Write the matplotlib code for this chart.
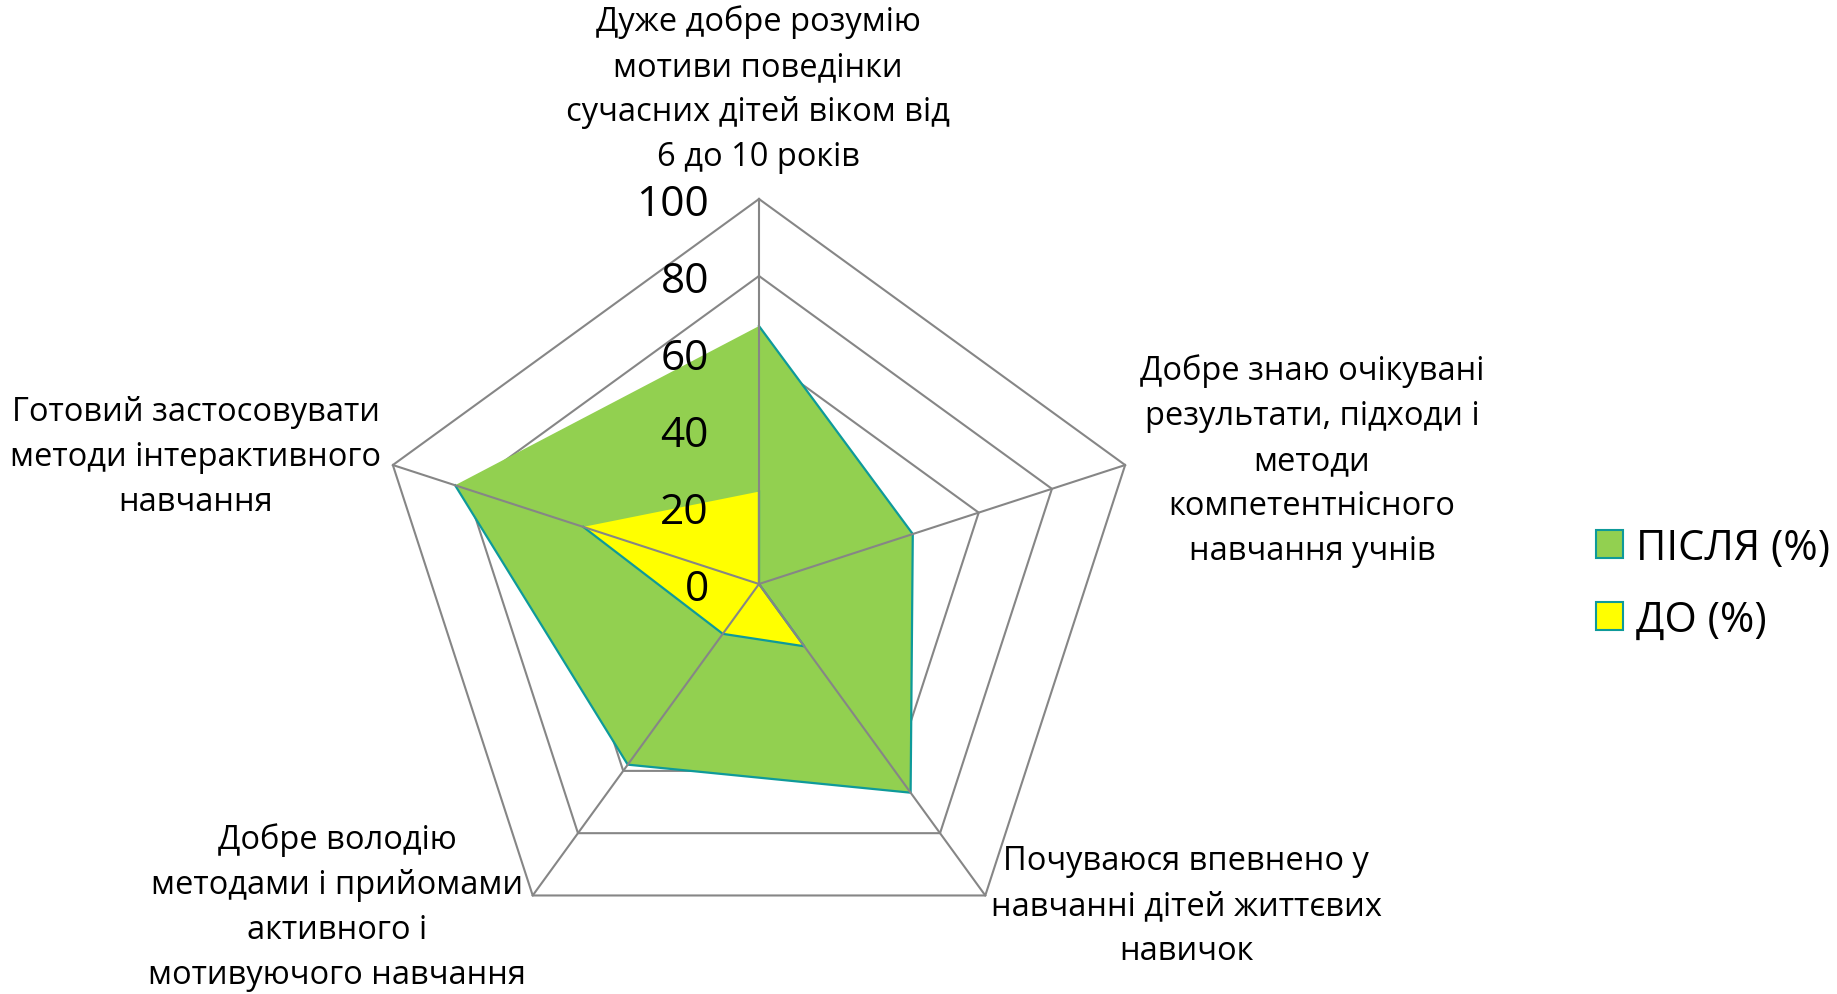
import numpy as np
import matplotlib
matplotlib.use("Agg")
import matplotlib.pyplot as plt
from matplotlib.patches import Patch

plt.rcParams['font.family'] = ['Open Sans', 'DejaVu Sans']

categories = [
    "Дуже добре розумію\nмотиви поведінки\nсучасних дітей віком від\n6 до 10 років",
    "Добре знаю очікувані\nрезультати, підходи і\nметоди\nкомпетентнісного\nнавчання учнів",
    "Почуваюся впевнено у\nнавчанні дітей життєвих\nнавичок",
    "Добре володію\nметодами і прийомами\nактивного і\nмотивуючого навчання",
    "Готовий застосовувати\nметоди інтерактивного\nнавчання",
]
after_vals = [67, 42, 67, 58, 83]   # ПІСЛЯ (%)
before_vals = [24, 0, 20, 16, 48]   # ДО (%)
ticks = [0, 20, 40, 60, 80, 100]

GRID = "#868686"
TEAL = "#0E9A9A"
GREEN = "#92D050"
YELLOW = "#FFFF00"

# pixel scale: 100 units = 385 px, center at (759, 585) px
ppu = 3.85
W, H = 1837, 995
cx, cy = 759, 585

fig = plt.figure(figsize=(W / 100, H / 100), dpi=100)
ax = fig.add_axes([0, 0, 1, 1])
ax.set_xlim(-cx / ppu, (W - cx) / ppu)
ax.set_ylim(-(H - cy) / ppu, cy / ppu)
ax.axis("off")

n = len(categories)
ang = np.deg2rad(90 - 72 * np.arange(n))


def xy(vals):
    v = np.asarray(vals, dtype=float)
    return v * np.cos(ang), v * np.sin(ang)


# pentagon gridlines (below the fills)
for t in ticks[1:]:
    gx, gy = xy([t] * n)
    ax.plot(np.append(gx, gx[0]), np.append(gy, gy[0]), color=GRID, lw=1.5, zorder=1)

# series: closed fill, open outline
for vals, col, z in [(after_vals, GREEN, 2), (before_vals, YELLOW, 3)]:
    px, py = xy(vals)
    ax.fill(px, py, color=col, lw=0, zorder=z)
    ax.plot(px, py, color=TEAL, lw=1.6, zorder=z + 0.5)

# spokes on top
ox, oy = xy([100] * n)
for i in range(n):
    ax.plot([0, ox[i]], [0, oy[i]], color=GRID, lw=1.5, zorder=4)

# radial tick labels
for t in ticks:
    ax.text(-13, t - 1.2, str(t), ha="right", va="center", fontsize=30.5, zorder=5)

# category labels (pixel positions converted to data units)
label_pos = [(758, 90), (1312, 461), (1186, 907), (337, 908), (196, 458)]
for lab, (lx, ly) in zip(categories, label_pos):
    ax.text((lx - cx) / ppu, (cy - ly) / ppu, lab, ha="center", va="center",
            fontsize=23.5, linespacing=1.48, multialignment="center")

handles = [Patch(facecolor=GREEN, edgecolor=TEAL, lw=1.5, label="ПІСЛЯ (%)"),
           Patch(facecolor=YELLOW, edgecolor=TEAL, lw=1.5, label="ДО (%)")]
fig.legend(handles=handles, loc="center left", bbox_to_anchor=(1596 / W, 1 - 585 / H),
           frameon=False, fontsize=30, handlelength=0.65, handleheight=0.65,
           handletextpad=0.3, labelspacing=0.72, borderaxespad=0, borderpad=0)

fig.savefig("out.png", dpi=100)
